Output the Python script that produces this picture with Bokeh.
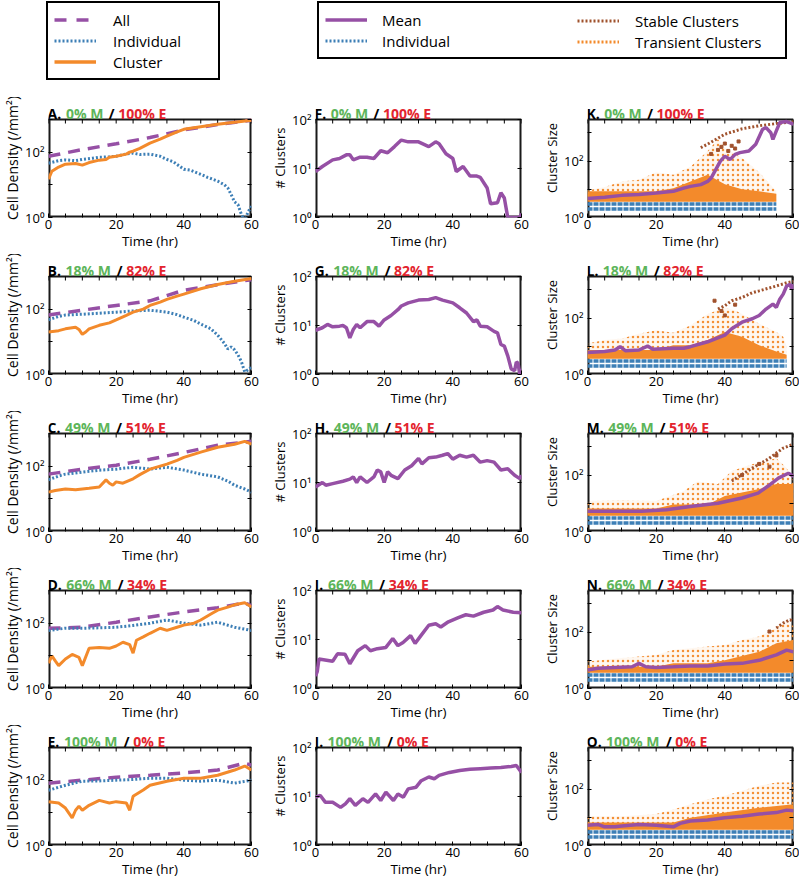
import math
from bokeh.plotting import figure
from bokeh.layouts import column, row
from bokeh.models import Range1d, FixedTicker, LogAxis, Label, Legend, LegendItem, Title
from bokeh.embed import file_html
from bokeh.resources import INLINE

# ---------------- colours / fonts ----------------
PURPLE = "#9650A5"
BLUE = "#3D7FB6"
ORANGE = "#F38A2B"
BROWN = "#A0522D"
GREEN = "#5DB55A"
RED = "#E3242E"
INK = "#1a1a1a"
FONT = "Open Sans"

# ---------------- labels ----------------
TIME_MAJOR = [0, 20, 40, 60]
TIME_MINOR = [5, 10, 15, 25, 30, 35, 45, 50, 55]
MIX_M = ["0% M", "18% M", "49% M", "66% M", "100% M"]
MIX_E = ["100% E", "82% E", "51% E", "34% E", "0% E"]
LETTERS = ["ABCDE", "FGHIJ", "KLMNO"]
Y_LABELS = ["Cell Density (/mm²)", "# Clusters", "Cluster Size"]
Y_LABEL_SIZE = ["14px", "13px", "13px"]
Y_MAX = [1000, 100, 3000]
Y_MAJOR = [[1, 100], [1, 10, 100], [1, 100]]
Y_MINOR = [[10, 1000], [], [10, 1000]]
Y_TICK_TEXT = {1: "10⁰", 10: "10¹", 100: "10²"}

# ---------------- column 1: cell density (time hr, density /mm^2) ----------------
A_all = [(0, 75), (5, 95), (10, 120), (20, 180), (30, 280), (40, 480), (50, 700), (60, 950)]
A_ind = [(0, 46), (3, 55), (5, 58), (8, 55), (10, 60), (13, 65), (15, 70), (18, 72), (20, 75),
         (23, 88), (25, 93), (27, 85), (30, 87), (33, 75), (35, 60), (37, 50), (40, 30), (42, 28),
         (45, 21), (47, 17), (50, 13), (52, 10), (53, 8), (54, 5), (55, 3), (56, 2.5), (57, 1.25),
         (58, 0.8), (59, 1.5), (60, 2.2)]
A_clu = [(0, 15), (1, 26), (3, 35), (5, 43), (8, 45), (10, 40), (12, 48), (15, 57), (17, 60),
         (18, 70), (20, 75), (23, 87), (24, 100), (25, 107), (27, 130), (30, 190), (33, 250),
         (35, 310), (38, 420), (40, 500), (45, 600), (50, 710), (55, 830), (60, 950)]

B_all = [(0, 66), (10, 93), (20, 130), (30, 180), (40, 380), (50, 560), (60, 800)]
B_ind = [(0, 47), (3, 60), (5, 66), (10, 70), (15, 75), (20, 81), (25, 88), (30, 93), (35, 81),
         (38, 68), (40, 57), (43, 45), (45, 35), (48, 25), (50, 16), (52, 9), (53, 6), (54, 7),
         (55, 5.7), (56, 4), (57, 2.5), (58, 1.2), (59, 1.4), (60, 1.7)]
B_clu = [(0, 20), (3, 22), (5, 25), (8, 28), (9, 24), (10, 17), (11, 20), (12, 25), (15, 32),
         (18, 38), (20, 47), (23, 65), (25, 81), (28, 100), (30, 130), (33, 165), (35, 200),
         (38, 250), (40, 290), (45, 420), (50, 570), (55, 720), (60, 870)]

C_all = [(0, 57), (10, 81), (20, 107), (30, 162), (40, 263), (50, 436), (60, 575)]
C_ind = [(0, 38), (3, 50), (5, 57), (10, 66), (15, 75), (20, 81), (25, 93), (30, 81), (35, 93),
         (40, 76), (45, 57), (50, 47), (53, 35), (55, 26), (58, 20), (60, 16)]
C_clu = [(0, 16), (2, 18), (5, 20), (8, 19), (10, 20), (12, 21), (15, 23), (17, 38), (18, 30),
         (19, 26), (20, 33), (22, 30), (25, 41), (27, 55), (30, 81), (33, 100), (35, 115),
         (38, 150), (40, 186), (45, 270), (50, 380), (55, 468), (58, 575), (60, 470)]

D_all = [(0, 70), (10, 75), (20, 107), (30, 155), (40, 220), (50, 295), (58, 420), (60, 340)]
D_ind = [(0, 60), (5, 70), (10, 70), (15, 72), (20, 75), (25, 85), (30, 100), (35, 125),
         (40, 100), (45, 87), (50, 107), (55, 75), (60, 60)]
D_clu = [(0, 6), (1, 10), (2, 7), (3, 5), (5, 8), (7, 11), (9, 9), (10, 5), (12, 17), (15, 18),
         (18, 17), (20, 20), (22, 26), (24, 22), (25, 12), (26, 30), (28, 38), (30, 49), (33, 70),
         (35, 60), (38, 75), (40, 87), (43, 100), (45, 125), (48, 190), (50, 250), (53, 310),
         (55, 365), (58, 420), (60, 316)]

E_all = [(0, 81), (10, 100), (20, 123), (30, 141), (40, 166), (50, 204), (58, 331), (60, 288)]
E_ind = [(0, 49), (5, 70), (10, 93), (15, 95), (20, 100), (25, 105), (30, 115), (35, 115),
         (40, 100), (45, 93), (50, 100), (55, 81), (60, 100)]
E_clu = [(0, 22), (3, 20), (5, 14), (7, 7), (8, 12), (9, 16), (10, 12), (12, 17), (15, 24),
         (18, 20), (20, 22), (23, 20), (24, 12), (25, 32), (28, 50), (30, 70), (35, 93),
         (40, 115), (45, 115), (50, 141), (55, 204), (58, 270), (60, 204)]

# ---------------- column 2: number of clusters ----------------
F_num = [(0, 8.7), (2, 11), (5, 15), (7, 16), (9, 19), (10, 19), (11, 15), (13, 17), (15, 17),
         (17, 16), (19, 23), (21, 21), (23, 28), (25, 38), (27, 35), (30, 35), (33, 28), (35, 35),
         (36, 32), (38, 20), (40, 16), (41, 8.7), (43, 11), (45, 7), (47, 7), (48, 6.6), (50, 4),
         (51, 1.9), (53, 2), (54, 3.2), (55, 2.5), (56, 1), (59.5, 1), (60, 1.2)]
G_num = [(0, 8), (2, 9), (3.5, 10.5), (5, 9.4), (7, 9.7), (8, 10), (9, 9), (10, 5.6), (11, 8.3),
         (12, 10.5), (13, 9), (15, 12), (17, 12), (18.5, 9.7), (20, 13), (22, 16), (24, 21),
         (25, 25), (27, 29), (30, 33), (33, 34), (35, 37), (37, 33), (40, 29), (42, 23), (44, 18),
         (46, 12), (47, 13), (48, 9.7), (50, 9.4), (52, 7.6), (53, 7.1), (54, 4.1), (55, 3.8),
         (56, 2.4), (57, 1.3), (58, 1.2), (58.5, 1.8), (59, 1.7), (59.5, 1), (60, 1.3)]
H_num = [(0, 8.1), (2, 10), (3, 8.8), (5, 9.5), (8, 10.6), (10, 11.7), (11, 13), (12, 10),
         (13, 13), (15, 10), (17, 13), (18, 18), (19, 16.5), (20, 10), (21, 16.5), (22, 14),
         (24, 12), (26, 18), (28, 22), (30, 31), (31, 24), (33, 32), (35, 33), (37, 36),
         (38.5, 39), (40, 30), (42, 36), (44, 33), (46, 36), (48, 26), (50, 28), (52, 26),
         (54, 18), (56, 19), (58, 14), (59.5, 12), (60, 14)]
I_num = [(0, 1.8), (0.5, 2.2), (1, 4), (5, 3.6), (6.4, 5.1), (8.6, 5), (10, 3.2), (12.3, 5.9),
         (14.5, 7.5), (16, 5.9), (18, 6.5), (20.5, 6.9), (22.5, 10.5), (24, 7.5), (25.5, 8.7),
         (27.7, 12), (29, 8.3), (30.7, 12), (33, 19.5), (35, 21), (36.5, 18), (38.7, 23),
         (41.6, 28), (43.8, 32), (46, 30), (49, 36), (51.7, 40), (53, 47), (54.6, 40),
         (57.6, 36), (60, 35)]
J_num = [(0, 9.7), (1.4, 10.5), (2.9, 7.6), (5, 7.6), (7.3, 6), (8.7, 7.1), (10, 9), (11.6, 6.6),
         (13.8, 9), (15.3, 7.6), (17.5, 11.3), (19, 8.3), (20.5, 12.3), (22.7, 8.3), (24, 11.3),
         (25.6, 9.7), (27, 14.3), (29.3, 15.5), (30.8, 21), (33, 25), (34.6, 23), (36, 27),
         (39, 31), (42, 34), (45, 36), (48, 37), (51, 38), (54, 39), (57, 41), (58.5, 43), (60, 31)]

# ---------------- column 3: cluster size ----------------
IND_SIZES = [2, 3]
IND_END = [55, 58, 60, 60, 60]
TRANSIENT_BASE = 3.6

K_mean = [(0, 4.7), (5, 5.2), (10, 6.1), (15, 6.5), (20, 7.4), (25, 8.5), (28, 11), (30, 12.7),
          (33, 14.7), (35, 19), (36, 25), (38.7, 100), (40, 150), (41.6, 115), (43, 174),
          (44.4, 200), (47, 229), (49, 396), (51, 1350), (52, 1550), (53.4, 1020), (54, 590),
          (55, 1180), (56, 2340), (58, 2530), (60, 2040)]
K_stable = [(33, 300), (35, 400), (38, 650), (40, 900), (45, 1400), (50, 1800), (55, 2150), (60, 2500)]
K_stable_pts = [(36, 180), (38, 250), (39, 320), (40, 420), (41, 230), (42, 350), (43, 280), (44, 500)]
K_dense = [(0, 8.5), (10, 8.5), (20, 8.5), (25, 11), (30, 19), (35, 33), (40, 15), (45, 10),
           (50, 8.5), (55, 7)]
K_sparse = [(0, 9), (5, 12), (10, 19), (15, 22), (20, 40), (25, 33), (30, 63), (35, 230),
            (38, 600), (40, 300), (45, 130), (50, 40), (55, 8.5)]

L_mean = [(0, 6), (5, 6.5), (8, 7.4), (9.5, 9.7), (11, 7), (15, 7.4), (17.5, 10.2), (19, 7.9),
          (25, 8.5), (28, 8.5), (30, 9.7), (35, 14.5), (40, 25), (42, 42), (45, 72), (48, 95),
          (50, 124), (52, 210), (54, 315), (55, 240), (56, 470), (57, 710), (58, 1380),
          (59, 1580), (59.5, 1050), (60, 1580)]
L_stable = [(38, 210), (40, 275), (42, 415), (45, 540), (48, 800), (50, 930), (55, 1380),
            (58, 1800), (60, 2000)]
L_stable_pts = [(37, 415), (39, 180), (40, 125), (43, 300)]
L_dense = [(0, 7.4), (10, 7.4), (20, 7.4), (25, 11), (30, 11), (35, 16.6), (40, 32), (45, 22),
           (50, 11), (55, 6.5), (58, 5)]
L_sparse = [(0, 12.7), (5, 16.6), (10, 19), (15, 28), (20, 37), (25, 30), (30, 55), (35, 141),
            (40, 240), (43, 185), (45, 141), (50, 63), (55, 32), (57, 22), (58, 10)]

M_mean = [(0, 5.2), (8, 5.2), (15.7, 5.2), (23, 5.9), (30.5, 7.8), (38, 10), (45, 15.5),
          (49.7, 23), (52.6, 41), (55.6, 78), (58.5, 117), (60, 91)]
M_stable = [(42, 62), (48, 178), (52.6, 370), (57, 910), (60, 1260)]
M_stable_pts = [(45, 100), (50, 250), (53, 200), (55, 500)]
M_dense = [(0, 6.6), (20, 6.6), (25, 9), (35, 9), (40, 18), (50, 32), (55, 48), (60, 48)]
M_sparse = [(0, 12), (10, 13), (20, 12), (28, 27), (32, 60), (38, 48), (42, 140), (48, 245),
            (55, 400), (58, 180), (60, 60)]

N_mean = [(0, 4.5), (3, 5.2), (8, 5.6), (13, 5.9), (15, 7.8), (17, 5.9), (20, 5.6), (25, 5.9),
          (30, 6.3), (35, 6.3), (40, 7.4), (45, 7.8), (50, 10), (55, 15.5), (58, 23), (60, 20)]
N_stable = [(55, 140), (57, 210), (59, 275), (60, 240)]
N_stable_pts = [(53, 105)]
N_dense = [(0, 5.9), (20, 5.9), (25, 7.8), (35, 7.8), (40, 10), (50, 20), (55, 40), (60, 53)]
N_sparse = [(0, 9), (10, 12), (20, 15.5), (25, 23), (30, 27), (35, 31), (40, 35), (45, 53),
            (50, 70), (55, 140), (58, 275), (60, 160)]

O_mean = [(0, 5.2), (3, 5.6), (5, 4.6), (8, 4.6), (10, 4.9), (15, 5.6), (20, 5.2), (25, 4.6),
          (27, 6.1), (30, 7.4), (35, 8), (40, 9.7), (45, 11), (50, 13), (55, 14.7), (58, 18), (60, 17)]
O_stable = []
O_stable_pts = []
O_dense = [(0, 6.5), (25, 6.5), (30, 9.7), (40, 14.7), (50, 22), (60, 29)]
O_sparse = [(0, 11), (10, 11), (20, 13), (25, 19), (30, 29), (35, 44), (40, 58), (45, 87),
            (50, 132), (55, 173), (60, 173)]

DENSITY = [(A_all, A_ind, A_clu), (B_all, B_ind, B_clu), (C_all, C_ind, C_clu),
           (D_all, D_ind, D_clu), (E_all, E_ind, E_clu)]
NUMBERS = [F_num, G_num, H_num, I_num, J_num]
SIZES = [(K_mean, K_stable, K_stable_pts, K_dense, K_sparse),
         (L_mean, L_stable, L_stable_pts, L_dense, L_sparse),
         (M_mean, M_stable, M_stable_pts, M_dense, M_sparse),
         (N_mean, N_stable, N_stable_pts, N_dense, N_sparse),
         (O_mean, O_stable, O_stable_pts, O_dense, O_sparse)]

# ---------------- layout geometry (pixels) ----------------
COL_GEOM = [(45, 17, 268), (45, 19, 272), (44, 6, 259)]  # left border, right border, width
ROW_H = 157
BOX_H = 98
TITLE_H = 21
TOP_B = 1
BOTTOM = 37
LEGEND_H = 97
TICK_LEN = 4

BOLD_W = {'A': .69, 'B': .66, 'C': .63, 'D': .72, 'E': .56, 'F': .54, 'G': .72, 'H': .75,
          'I': .36, 'J': .33, 'K': .65, 'L': .54, 'M': .92, 'N': .79, 'O': .77, '.': .29,
          ' ': .26, '%': .88, '/': .37}


def text_w(s, size):
    return 1.06 * size * sum(BOLD_W.get(c, .57) for c in s)


def unzip(pairs):
    return [a for a, b in pairs], [b for a, b in pairs]


def style_axis(ax, size="13px", standoff=2):
    ax.major_tick_in = TICK_LEN
    ax.major_tick_out = 0
    ax.minor_tick_in = TICK_LEN
    ax.minor_tick_out = 0
    ax.axis_line_color = None
    ax.major_tick_line_color = "black"
    ax.minor_tick_line_color = "black"
    ax.major_tick_line_width = 1
    ax.minor_tick_line_width = 1
    ax.major_label_text_font = FONT
    ax.major_label_text_color = "black"
    ax.major_label_text_font_size = size
    ax.major_label_standoff = standoff


def make_panel(col, r):
    left, right, width = COL_GEOM[col]
    ymax = Y_MAX[col]
    px_per_dec = BOX_H / math.log10(ymax)
    y_top = ymax * 10 ** (TITLE_H / px_per_dec)     # room for the panel title inside the frame
    p = figure(width=width, height=ROW_H, x_range=Range1d(0, 60),
               y_range=Range1d(1, y_top), y_axis_type="log",
               output_backend="svg", toolbar_location=None,
               min_border_left=left, min_border_right=right,
               min_border_top=TOP_B, min_border_bottom=BOTTOM)
    p.grid.visible = False
    p.outline_line_color = None
    p.background_fill_color = "white"

    xa = p.xaxis[0]
    xa.ticker = FixedTicker(ticks=TIME_MAJOR, minor_ticks=TIME_MINOR)
    style_axis(xa, "13px", 2)
    xa.axis_label = "Time (hr)"
    xa.axis_label_text_font = FONT
    xa.axis_label_text_font_size = "13.5px"
    xa.axis_label_text_font_style = "normal"
    xa.axis_label_text_color = "black"
    xa.axis_label_standoff = 0

    ya = p.yaxis[0]
    ya.ticker = FixedTicker(ticks=Y_MAJOR[col], minor_ticks=Y_MINOR[col])
    ya.major_label_overrides = {t: Y_TICK_TEXT[t] for t in Y_MAJOR[col]}
    style_axis(ya, "13px", 4)

    # y-axis title, centred on the plot box (box sits TITLE_H/2 below the frame centre)
    p.add_layout(Title(text=Y_LABELS[col], align="center", offset=-TITLE_H / 2,
                       text_font=FONT, text_font_size=Y_LABEL_SIZE[col],
                       text_font_style="normal", text_color="black", standoff=1), "left")

    rgt = LogAxis(ticker=FixedTicker(ticks=[], minor_ticks=Y_MAJOR[col] + Y_MINOR[col]))
    style_axis(rgt)
    p.add_layout(rgt, "right")

    # plot box (frame edges are clipped in half, so those are drawn twice as wide)
    p.segment(x0=[0, 0, 60, 0], x1=[60, 0, 60, 60], y0=[1, 1, 1, ymax], y1=[1, ymax, ymax, ymax],
              line_color=INK, line_width=[4, 4, 4, 2])
    tick_end = ymax / 10 ** (TICK_LEN / px_per_dec)
    all_t = TIME_MAJOR + TIME_MINOR
    p.segment(x0=all_t, x1=all_t, y0=[ymax] * len(all_t), y1=[tick_end] * len(all_t),
              line_color="black", line_width=1)

    # panel title pieces
    letter = LETTERS[col][r]
    m, e = MIX_M[r], MIX_E[r]
    fs = 14
    pieces = [(letter + ".", "black", 0),
              (m, GREEN, text_w(letter + ". ", fs)),
              ("/", "black", text_w(letter + ". " + m + " ", fs)),
              (e, RED, text_w(letter + ". " + m + " / ", fs))]
    for txt, colr, off in pieces:
        p.add_layout(Label(x=0, y=ymax, x_offset=off - 1, y_offset=6, text=txt,
                           text_color=colr, text_font=FONT, text_font_size=f"{fs}px",
                           text_font_style="bold", text_baseline="alphabetic",
                           text_align="left"))

    if col == 0:
        a, ind, clu = DENSITY[r]
        p.line(*unzip(a), line_color=PURPLE, line_width=3.5, line_dash="12 8")
        p.line(*unzip(ind), line_color=BLUE, line_width=3, line_dash="2 2")
        p.line(*unzip(clu), line_color=ORANGE, line_width=3)
    elif col == 1:
        p.line(*unzip(NUMBERS[r]), line_color=PURPLE, line_width=3.5)
    else:
        mean, stable, stable_pts, dense, sparse = SIZES[r]
        end = IND_END[r]
        p.segment(x0=[0] * len(IND_SIZES), x1=[end] * len(IND_SIZES),
                  y0=IND_SIZES, y1=IND_SIZES, line_color=BLUE, line_width=3.5,
                  line_dash="5 1")
        sx, sy = unzip(sparse)
        p.varea(x=sx, y1=[TRANSIENT_BASE] * len(sx), y2=sy, fill_color=ORANGE,
                fill_alpha=0.07, hatch_pattern=".", hatch_color=ORANGE,
                hatch_scale=5, hatch_weight=2, hatch_alpha=0.95)
        dx, dy = unzip(dense)
        p.varea(x=dx, y1=[TRANSIENT_BASE] * len(dx), y2=dy, fill_color=ORANGE, fill_alpha=1)
        if stable:
            p.line(*unzip(stable), line_color=BROWN, line_width=3, line_dash="2 2")
        if stable_pts:
            px, py = unzip(stable_pts)
            p.scatter(px, py, marker="square", size=3, color=BROWN)
        p.line(*unzip(mean), line_color=PURPLE, line_width=3.5)
    return p


# ---------------- legend strip ----------------
leg = figure(width=799, height=LEGEND_H, x_range=Range1d(0, 1), y_range=Range1d(0, 1),
             x_axis_location=None, y_axis_location=None,
             output_backend="svg", toolbar_location=None, min_border=0)
leg.grid.visible = False
leg.outline_line_color = None

NAN = [float("nan")]
r_all = leg.line(x=NAN, y=NAN, line_color=PURPLE, line_width=3.5, line_dash="12 10")
r_ind = leg.line(x=NAN, y=NAN, line_color=BLUE, line_width=3, line_dash="2 2")
r_clu = leg.line(x=NAN, y=NAN, line_color=ORANGE, line_width=3.5)
r_mean = leg.line(x=NAN, y=NAN, line_color=PURPLE, line_width=3.5)
r_ind2 = leg.line(x=NAN, y=NAN, line_color=BLUE, line_width=3, line_dash="2 2")
r_stab = leg.line(x=NAN, y=NAN, line_color=BROWN, line_width=3, line_dash="2 2")
r_tran = leg.line(x=NAN, y=NAN, line_color=ORANGE, line_width=3, line_dash="2 2")

common = dict(orientation="vertical", glyph_width=42, glyph_height=21, label_height=21,
              spacing=0, padding=6, label_text_font=FONT, label_text_font_size="15px",
              label_text_color="black", margin=0)
leg1 = Legend(items=[LegendItem(label="All", renderers=[r_all]),
                     LegendItem(label="Individual", renderers=[r_ind]),
                     LegendItem(label="Cluster", renderers=[r_clu])],
              location=(46, 17), label_standoff=17, label_width=99,
              border_line_color="black", border_line_width=2, border_line_alpha=1,
              **common)
leg2a = Legend(items=[LegendItem(label="Mean", renderers=[r_mean]),
                      LegendItem(label="Individual", renderers=[r_ind2])],
               location=(317, 38), label_standoff=15, label_width=397,
               border_line_color="black", border_line_width=2, border_line_alpha=1,
               **common)
leg2b = Legend(items=[LegendItem(label="Stable Clusters", renderers=[r_stab]),
                      LegendItem(label="Transient Clusters", renderers=[r_tran])],
               location=(571, 39), label_standoff=16, label_width=100,
               border_line_color="black", border_line_alpha=0, border_line_width=2,
               background_fill_alpha=0, **common)
leg.add_layout(leg1)
leg.add_layout(leg2a)
leg.add_layout(leg2b)

rows = [leg]
for r in range(5):
    rows.append(row(*[make_panel(c, r) for c in range(3)]))

layout = column(*rows)
open("out.html", "w").write(file_html(layout, INLINE))
